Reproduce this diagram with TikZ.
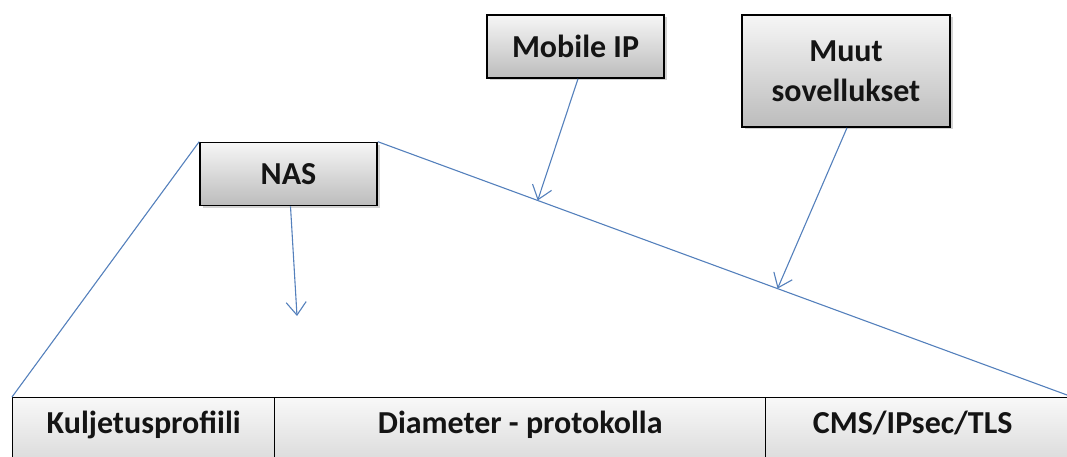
\documentclass[tikz,border=0pt]{standalone}
\usepackage{fontspec}
\setmainfont{Carlito}
\usetikzlibrary{arrows.meta,shadows}
\definecolor{linkblue}{RGB}{84,128,188}
\definecolor{boxtop}{RGB}{246,246,246}
\definecolor{boxbottom}{RGB}{188,188,188}
\definecolor{bartop}{RGB}{248,248,248}
\definecolor{barbottom}{RGB}{212,212,212}
\definecolor{ink}{RGB}{20,20,20}
\tikzset{
  appbox/.style={draw=black, line width=1.6pt, top color=boxtop, bottom color=boxbottom,
    drop shadow={shadow xshift=2.5pt, shadow yshift=-2.5pt, opacity=0.35},
    text=ink, font=\fontsize{32}{40}\selectfont\bfseries, align=center, inner sep=0pt},
  cell/.style={draw=black, line width=1.4pt, top color=bartop, bottom color=barbottom,
    anchor=north west, minimum height=80pt, inner sep=0pt,
    text height=22pt, text depth=30pt,
    text=ink, font=\fontsize{32}{40}\selectfont\bfseries},
  link/.style={draw=linkblue, line width=1.1pt},
  pointer/.style={link, -{Straight Barb[length=13pt,width=20pt,line width=1.1pt]}}
}
\begin{document}
\begin{tikzpicture}[x=1pt,y=-1pt]
\useasboundingbox (0,0) rectangle (1067,457);

% protocol stack along the bottom
\node[cell, minimum width=262pt] (kul) at (12,397) {Kuljetusprofiili};
\node[cell, minimum width=491pt] (dia) at (274,397) {Diameter - protokolla};
\node[cell, minimum width=330pt] (cms) at (765,397) {\hspace*{-36pt}CMS/IPsec/TLS};

% applications on top of the stack
\node[appbox, minimum width=177pt, minimum height=63pt] (nas) at (288.5,174) {NAS};
\node[appbox, minimum width=177pt, minimum height=63pt] (mip) at (575.5,46.5) {Mobile IP};
\node[appbox, minimum width=208pt, minimum height=112pt] (muut) at (846,71) {Muut\\sovellukset};

% outline of the fan from the stack up to the applications
\coordinate (rightend) at (1067,395);
\draw[link] (kul.north west) -- (nas.north west);
\draw[link] (nas.north east) -- (rightend);

% arrows from the applications down onto the fan
\coordinate (nasend) at (297,316);
\path (nas.north east) -- (rightend) coordinate[pos=0.232] (mipend) coordinate[pos=0.58] (muutend);
\draw[pointer] ([xshift=2pt]nas.south) -- (nasend);
\draw[pointer] ([xshift=2.5pt]mip.south) -- (mipend);
\draw[pointer] ([xshift=1pt]muut.south) -- (muutend);
\end{tikzpicture}
\end{document}
